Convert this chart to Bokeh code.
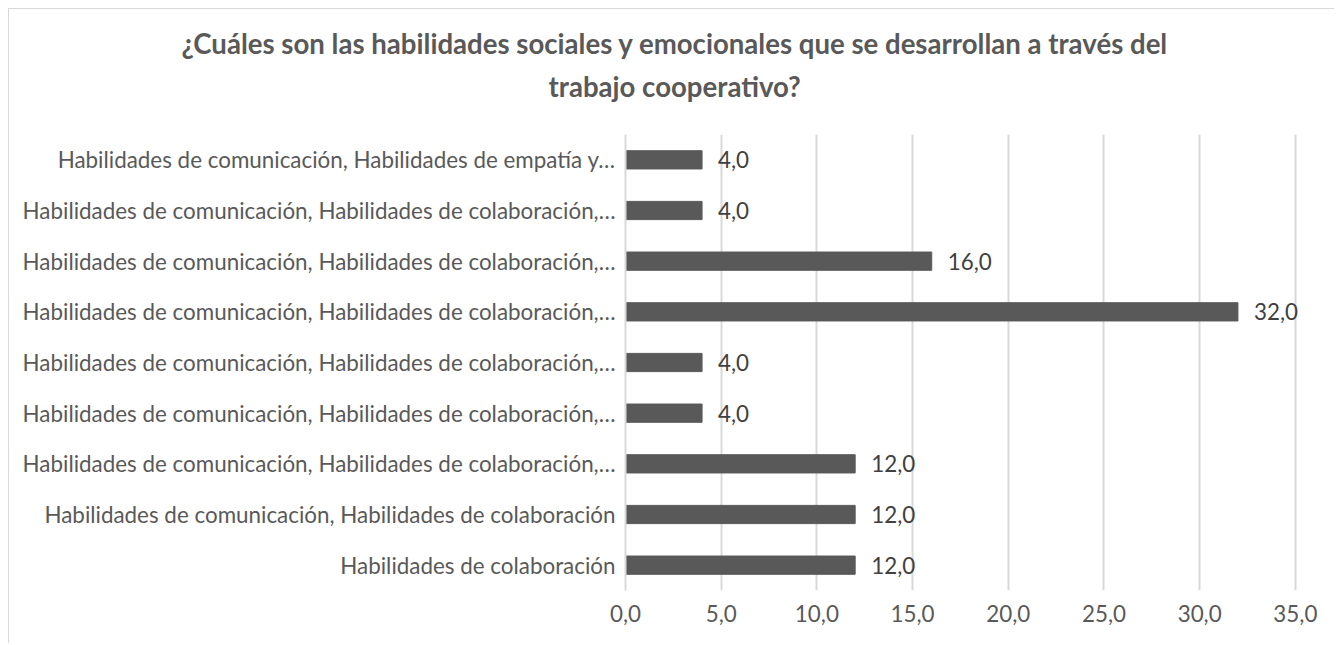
from bokeh.plotting import figure
from bokeh.models import ColumnDataSource, LabelSet, Title, FixedTicker, Range1d
from bokeh.core.properties import value
from bokeh.embed import file_html
from bokeh.resources import INLINE

# Data (bottom to top)
categories = [
    "Habilidades de colaboración",
    "Habilidades de comunicación, Habilidades de colaboración",
    "Habilidades de comunicación, Habilidades de colaboración,…",
    "Habilidades de comunicación, Habilidades de colaboración,…",
    "Habilidades de comunicación, Habilidades de colaboración,…",
    "Habilidades de comunicación, Habilidades de colaboración,…",
    "Habilidades de comunicación, Habilidades de colaboración,…",
    "Habilidades de comunicación, Habilidades de colaboración,…",
    "Habilidades de comunicación, Habilidades de empatía y…",
]
values = [12.0, 12.0, 12.0, 4.0, 4.0, 32.0, 16.0, 4.0, 4.0]
x_ticks = [0, 5, 10, 15, 20, 25, 30, 35]
x_tick_labels = ["0,0", "5,0", "10,0", "15,0", "20,0", "25,0", "30,0", "35,0"]
title_lines = [
    "¿Cuáles son las habilidades sociales y emocionales que se desarrollan a través del",
    "trabajo cooperativo?",
]

FONT = "Lato"
GRID = "#d9d9d9"
TEXT = "#595959"
FS = "22.4px"

positions = list(range(len(categories)))
src = ColumnDataSource(dict(
    y=positions,
    value=values,
    label=[f"{v:.1f}".replace(".", ",") for v in values],
))

# x range runs slightly past the last grid line so the "32,0" label is not clipped
p = figure(width=1326, height=635, output_backend="svg", toolbar_location=None,
           x_range=Range1d(0, 36), y_range=Range1d(-0.5, len(categories) - 0.5),
           min_border_left=616, min_border_right=21, min_border_top=125,
           min_border_bottom=54)
p.styles = {"margin-left": "8px", "margin-top": "8px",
            "border-top": f"1px solid {GRID}", "border-left": f"1px solid {GRID}"}
p.outline_line_color = None
p.background_fill_color = "white"
p.border_fill_color = "white"

p.hbar(y="y", right="value", left=0, height=0.36, color="#595959", source=src)

p.add_layout(LabelSet(x="value", y="y", text="label", source=src, x_offset=16,
                      text_baseline="middle", text_font=value(FONT), text_font_size=FS,
                      text_color="#404040"))

# axes
p.yaxis.ticker = FixedTicker(ticks=positions)
p.yaxis.major_label_overrides = {i: c for i, c in zip(positions, categories)}
p.yaxis.axis_line_color = GRID
p.yaxis.axis_line_width = 2
p.yaxis.major_tick_line_color = None
p.yaxis.minor_tick_line_color = None
p.yaxis.major_label_text_font = FONT
p.yaxis.major_label_text_font_size = FS
p.yaxis.major_label_text_color = TEXT
p.yaxis.major_label_standoff = 4

p.xaxis.ticker = FixedTicker(ticks=x_ticks)
p.xaxis.major_label_overrides = {t: l for t, l in zip(x_ticks, x_tick_labels)}
p.xaxis.axis_line_color = None
p.xaxis.major_tick_line_color = None
p.xaxis.minor_tick_line_color = None
p.xaxis.major_label_text_font = FONT
p.xaxis.major_label_text_font_size = FS
p.xaxis.major_label_text_color = TEXT
p.xaxis.major_label_standoff = 8

p.xgrid.grid_line_color = GRID
p.xgrid.grid_line_width = 2
p.ygrid.grid_line_color = None

# two-line title: second line added first (closest to the frame)
p.title = None
for txt, off, sd in [(title_lines[1], -77, 63), (title_lines[0], -444, -46)]:
    p.add_layout(Title(text=txt, align="left", offset=off, standoff=sd,
                       text_font=FONT, text_font_size="27.6px", text_font_style="bold",
                       text_color=TEXT), "above")

open("out.html", "w").write(file_html(p, INLINE))
